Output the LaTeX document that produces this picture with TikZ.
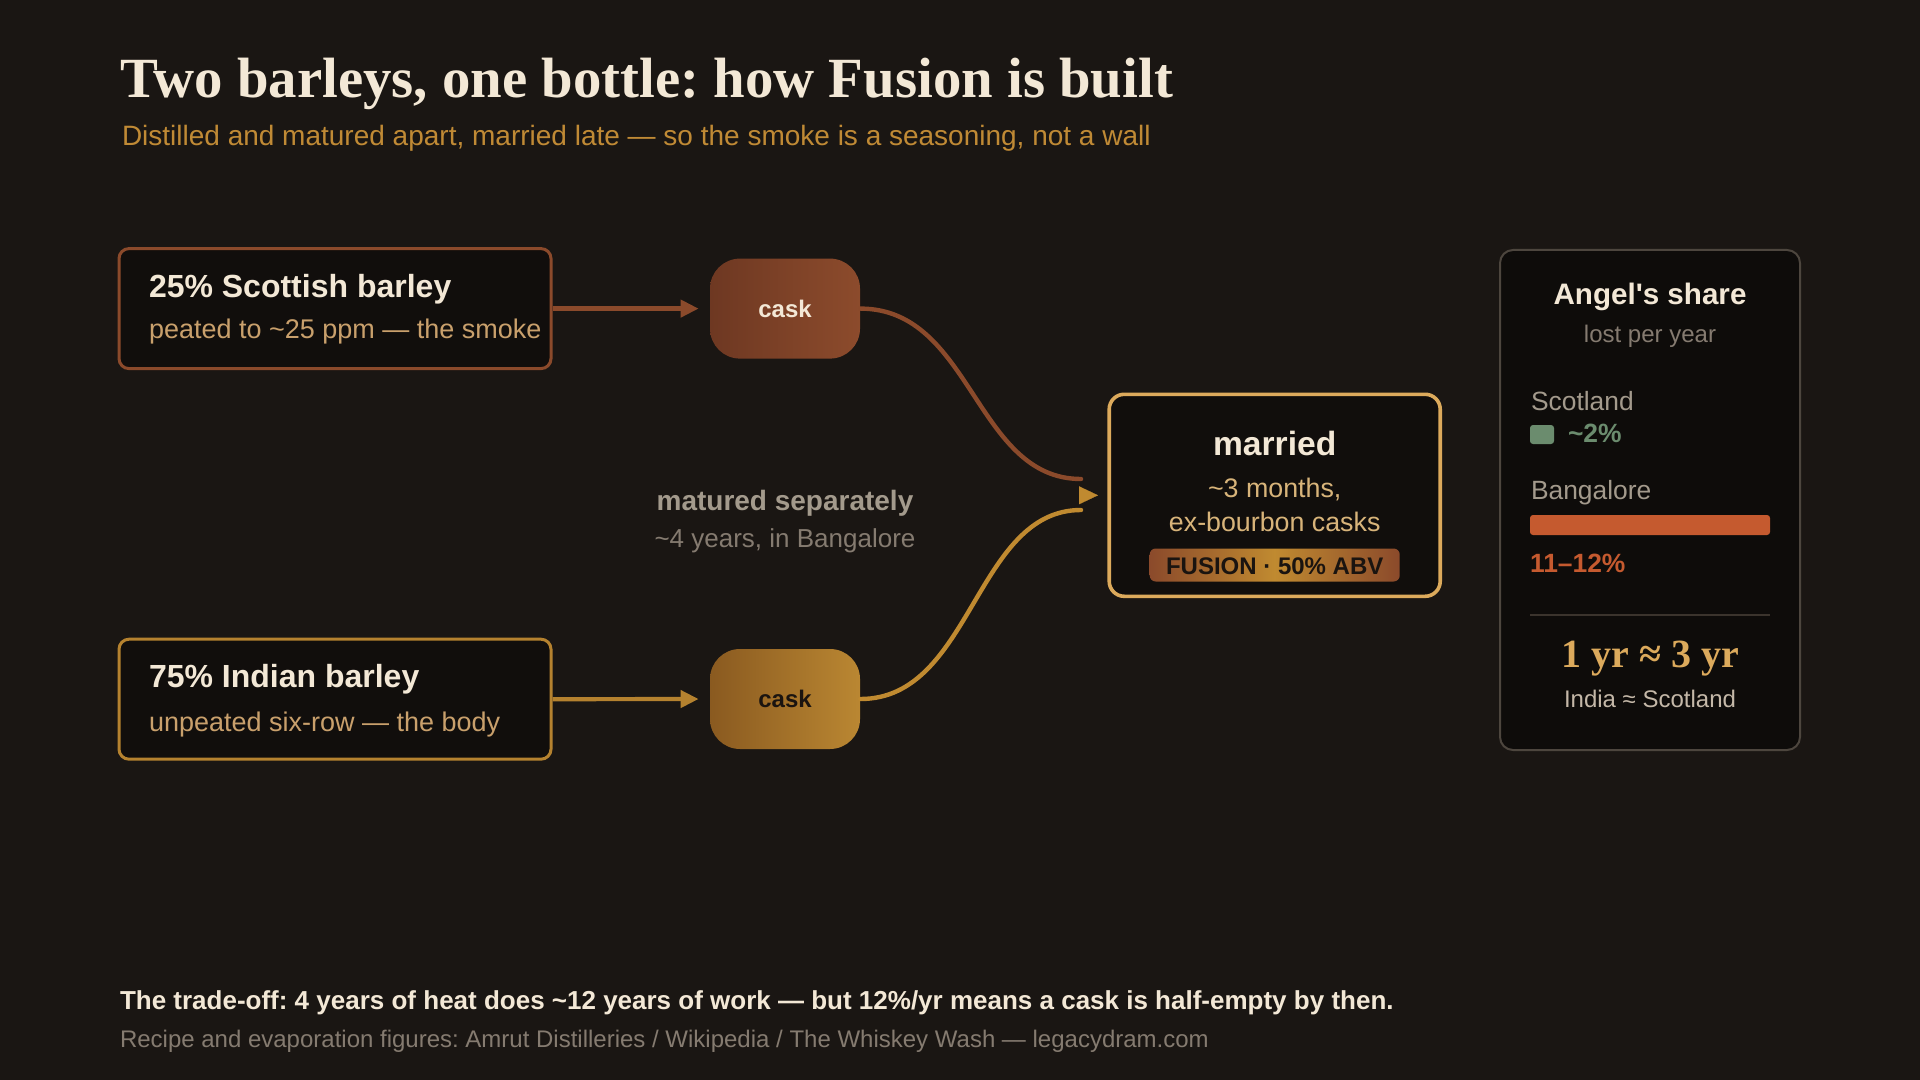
\documentclass[tikz,border=0pt]{standalone}
\usepackage{fontspec}
\setmainfont{Liberation Sans}
\newfontfamily\seriffont{Liberation Serif}
\usetikzlibrary{arrows.meta}
\frenchspacing
\definecolor{bg}{HTML}{1A1613}
\definecolor{boxfill}{HTML}{110E0C}
\definecolor{cream}{HTML}{F3E8D6}
\definecolor{tan}{HTML}{C9A06C}
\definecolor{tanlight}{HTML}{D8B47A}
\definecolor{subgold}{HTML}{C08A35}
\definecolor{rust}{HTML}{8B4A2B}
\definecolor{amber}{HTML}{B5822F}
\definecolor{lightgold}{HTML}{DCAA5C}
\definecolor{grayA}{HTML}{A39A8C}
\definecolor{grayB}{HTML}{857B70}
\definecolor{grayC}{HTML}{C4B8A8}
\definecolor{greenA}{HTML}{6B8C6E}
\definecolor{orangeA}{HTML}{C55A2F}
\definecolor{panelborder}{HTML}{4D463E}
\definecolor{panelfill}{HTML}{0E0C0A}
\definecolor{divider}{HTML}{3B342D}
\definecolor{caskAl}{HTML}{6E3822}
\definecolor{caskAr}{HTML}{8C4B2C}
\definecolor{caskBl}{HTML}{8A5A20}
\definecolor{caskBr}{HTML}{BA8732}
\definecolor{curveB}{HTML}{C08A30}
\definecolor{darktext}{HTML}{1A1410}
\newcommand\fsz[1]{\fontsize{#1}{#1}\selectfont}
\newcommand\tld{\textasciitilde}
\begin{document}
\begin{tikzpicture}[x=0.5pt,y=-0.5pt,
  txt/.style={inner sep=0pt, outer sep=0pt},
  srcbox/.style={line width=1.5pt, fill=boxfill, rounded corners=5pt, minimum width=216pt, minimum height=60pt, inner sep=0pt},
  caskbox/.style={rounded corners=15pt, minimum width=75pt, minimum height=50pt, inner sep=0pt, font=\bfseries\fsz{12}},
  feed/.style={line width=2.1pt, -{Triangle[length=9pt,width=8.5pt]}, shorten >=5.5pt},
  flow/.style={line width=2.2pt, line cap=round},
  boxtitle/.style={txt, anchor=base west, text=cream, font=\bfseries\fsz{16}},
  boxsub/.style={txt, anchor=base west, text=tan, font=\fsz{13.5}}
]
\fill[bg] (0,0) rectangle (1920,1080);
\useasboundingbox (0,0) rectangle (1920,1080);

% titles
\node[txt, anchor=base west, text=cream, font=\seriffont\bfseries\fsz{28.4}] (title) at (120,98) {Two barleys, one bottle: how Fusion is built};
\node[txt, anchor=base west, text=subgold, font=\fsz{14}] (subtitle) at (122,146) {Distilled and matured apart, married late — so the smoke is a seasoning, not a wall};

% source boxes
\node[srcbox, draw=rust] (b1) at (335,308.6) {};
\node[boxtitle] (b1t) at (149,298) {25\% Scottish barley};
\node[boxsub] (b1s) at (149,339) {peated to \tld25 ppm — the smoke};

\node[srcbox, draw=amber] (b2) at (335,699.2) {};
\node[boxtitle] (b2t) at (149,687) {75\% Indian barley};
\node[boxsub] (b2s) at (149,731) {unpeated six-row — the body};

% casks
\node[caskbox, left color=caskAl, right color=caskAr, text=cream] (c1) at (785,308.6) {cask};
\node[caskbox, left color=caskBl, right color=caskBr, text=darktext] (c2) at (785,699) {cask};

\draw[feed, rust] (b1.east) -- (c1.west);
\draw[feed, amber] (b2.east) -- (c2.west);

% married box
\node[draw=lightgold, line width=1.8pt, fill=boxfill, rounded corners=7.5pt, minimum width=165.5pt, minimum height=101pt, inner sep=0pt] (mar) at (1274.7,495.3) {};
\node[txt, anchor=base, text=cream, font=\bfseries\fsz{16.8}] (mart) at (1274.7,455) {married};
\node[txt, anchor=base, text=tanlight, font=\fsz{13.4}] (mars1) at (1274.7,497) {\tld3 months,};
\node[txt, anchor=base, text=tanlight, font=\fsz{13.4}] (mars2) at (1274.7,531) {ex-bourbon casks};
\node[rounded corners=3pt, left color=rust, right color=rust, middle color=curveB, minimum width=125pt, minimum height=16.5pt, inner sep=0pt] (badge) at (1274.7,565) {};
\node[txt, anchor=base, text=darktext, font=\bfseries\fsz{12}] (badget) at (1274.7,574) {FUSION · 50\% ABV};

% flows
\coordinate (m1) at (1081,479);
\coordinate (m2) at (1081,510);
\coordinate (mh) at (1080,495.3);
\draw[flow, rust] (c1.east) .. controls (972,308.6) and (975,479) .. (m1);
\draw[flow, curveB] (c2.east) .. controls (972,699) and (975,510) .. (m2);
\draw[curveB, line width=0.1pt, -{Triangle[length=9.5pt,width=9pt]}, shorten >=4.7pt] (mh) -- (mar.west);

% middle label
\node[txt, anchor=base, text=grayA, font=\bfseries\fsz{14}] (mat1) at (785,510) {matured separately};
\node[txt, anchor=base, text=grayB, font=\fsz{13}] (mat2) at (785,547) {\tld4 years, in Bangalore};

% right panel
\node[draw=panelborder, line width=1pt, fill=panelfill, rounded corners=6.5pt, minimum width=150pt, minimum height=250pt, inner sep=0pt] (panel) at (1650,500) {};
\node[txt, anchor=base, text=cream, font=\bfseries\fsz{14.8}] (pt) at (1650,305) {Angel\textquotesingle s share};
\node[txt, anchor=base, text=grayB, font=\fsz{12}] (ps) at (1650,343) {lost per year};
\node[txt, anchor=base west, text=grayA, font=\fsz{13.2}] (sc) at (1531,410) {Scotland};
\node[fill=greenA, rounded corners=1.5pt, minimum width=12pt, minimum height=9.5pt, inner sep=0pt] (scbar) at (1542,434.5) {};
\node[txt, anchor=base west, text=greenA, font=\bfseries\fsz{13.2}] (scv) at (1568,442) {\tld2\%};
\node[txt, anchor=base west, text=grayA, font=\fsz{13.2}] (ba) at (1531,499) {Bangalore};
\node[fill=orangeA, rounded corners=1.5pt, minimum width=120pt, minimum height=10pt, inner sep=0pt] (babar) at (1650,525) {};
\node[txt, anchor=base west, text=orangeA, font=\bfseries\fsz{13.2}] (bav) at (1530,572) {11–12\%};
\coordinate (dl) at (1530,615);
\coordinate (dr) at (1770,615);
\draw[divider, line width=1pt] (dl) -- (dr);
\node[txt, anchor=base, text=lightgold, font=\seriffont\bfseries\fsz{20}] (eq) at (1650,667) {1 yr ≈ 3 yr};
\node[txt, anchor=base, text=grayC, font=\fsz{12}] (eqs) at (1650,707) {India ≈ Scotland};

% footer
\node[txt, anchor=base west, text=cream, font=\bfseries\fsz{13}] (f1) at (120,1009) {The trade-off: 4 years of heat does \tld12 years of work — but 12\%/yr means a cask is half-empty by then.};
\node[txt, anchor=base west, text=grayB, font=\fsz{12}] (f2) at (120,1047) {Recipe and evaporation figures: Amrut Distilleries / Wikipedia / The Whiskey Wash — legacydram.com};
\end{tikzpicture}
\end{document}
